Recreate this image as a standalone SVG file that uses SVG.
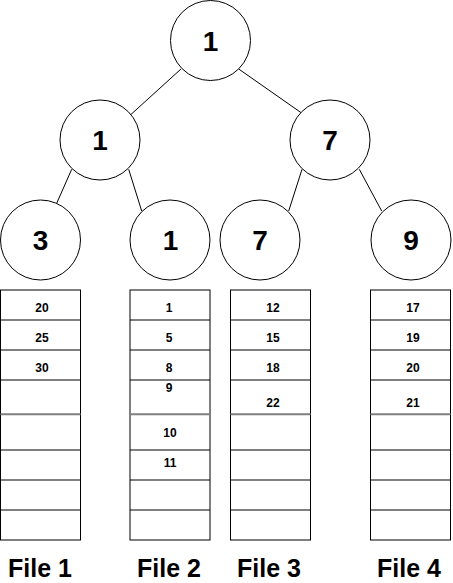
<svg xmlns="http://www.w3.org/2000/svg" width="453" height="583" viewBox="0 0 453 583">
<style>
.node circle{fill:#fff;stroke:#000;stroke-width:1}
.node text{font-family:"Liberation Sans",Arial,sans-serif;font-weight:bold;font-size:28px;text-anchor:middle;fill:#000}
.edges line{stroke:#000;stroke-width:1}
.file rect{fill:#fff;stroke:#000;stroke-width:1}
.file line{stroke:#000;stroke-width:1}
.file line.sep{stroke:#808080;stroke-width:2}
.file text{font-family:"Liberation Sans",Arial,sans-serif;font-weight:bold;font-size:12px;text-anchor:middle;fill:#000}
.label{font-family:"Liberation Sans",Arial,sans-serif;font-weight:bold;font-size:25px;text-anchor:middle;fill:#000}
</style>
<rect width="453" height="583" fill="#fff"/>
<g class="edges" id="connectors">
<line x1="181" y1="69" x2="130.7" y2="114.7"/>
<line x1="238.7" y1="69" x2="302" y2="113.3"/>
<line x1="71.7" y1="169.3" x2="56.7" y2="203.3"/>
<line x1="128.7" y1="169.3" x2="141.7" y2="211"/>
<line x1="302" y1="169.3" x2="288.7" y2="211"/>
<line x1="359.3" y1="169.3" x2="381.7" y2="211"/>
</g>
<g class="node" id="n-root"><circle cx="210.5" cy="40.5" r="40"/><text x="210.5" y="50.5">1</text></g>
<g class="node" id="n-l"><circle cx="100" cy="140" r="40"/><text x="100" y="150">1</text></g>
<g class="node" id="n-r"><circle cx="330" cy="140" r="40"/><text x="330" y="150">7</text></g>
<g class="node" id="n-ll"><circle cx="40.5" cy="240" r="40"/><text x="40.5" y="250">3</text></g>
<g class="node" id="n-lr"><circle cx="170" cy="240" r="40"/><text x="170.5" y="250">1</text></g>
<g class="node" id="n-rl"><circle cx="260" cy="240" r="40"/><text x="260" y="250">7</text></g>
<g class="node" id="n-rr"><circle cx="411" cy="240" r="40"/><text x="411" y="250">9</text></g>

<g class="file" id="file1">
<rect x="0.5" y="290" width="80" height="250"/>
<line x1="0.5" y1="320" x2="80.5" y2="320"/><line x1="0.5" y1="350" x2="80.5" y2="350"/><line x1="0.5" y1="380" x2="80.5" y2="380"/>
<line class="sep" x1="0.5" y1="414.3" x2="80.5" y2="414.3"/>
<line x1="0.5" y1="450" x2="80.5" y2="450"/><line x1="0.5" y1="480" x2="80.5" y2="480"/><line x1="0.5" y1="510" x2="80.5" y2="510"/>
<text x="42" y="312">20</text><text x="42" y="342">25</text><text x="42" y="372">30</text>
</g>
<g class="file" id="file2">
<rect x="130" y="290" width="80" height="250"/>
<line x1="130" y1="320" x2="210" y2="320"/><line x1="130" y1="350" x2="210" y2="350"/><line x1="130" y1="380" x2="210" y2="380"/>
<line class="sep" x1="130" y1="414.3" x2="210" y2="414.3"/>
<line x1="130" y1="450" x2="210" y2="450"/><line x1="130" y1="480" x2="210" y2="480"/><line x1="130" y1="510" x2="210" y2="510"/>
<text x="169" y="312">1</text><text x="169" y="342">5</text><text x="169" y="372">8</text><text x="169" y="392">9</text><text x="170" y="437">10</text><text x="170" y="467">11</text>
</g>
<g class="file" id="file3">
<rect x="230.5" y="290" width="80" height="250"/>
<line x1="230.5" y1="320" x2="310.5" y2="320"/><line x1="230.5" y1="350" x2="310.5" y2="350"/><line x1="230.5" y1="380" x2="310.5" y2="380"/>
<line class="sep" x1="230.5" y1="414.3" x2="310.5" y2="414.3"/>
<line x1="230.5" y1="450" x2="310.5" y2="450"/><line x1="230.5" y1="480" x2="310.5" y2="480"/><line x1="230.5" y1="510" x2="310.5" y2="510"/>
<text x="273" y="312">12</text><text x="273" y="342">15</text><text x="273" y="372">18</text><text x="273" y="407">22</text>
</g>
<g class="file" id="file4">
<rect x="370.5" y="290" width="80" height="250"/>
<line x1="370.5" y1="320" x2="450.5" y2="320"/><line x1="370.5" y1="350" x2="450.5" y2="350"/><line x1="370.5" y1="380" x2="450.5" y2="380"/>
<line class="sep" x1="370.5" y1="414.3" x2="450.5" y2="414.3"/>
<line x1="370.5" y1="450" x2="450.5" y2="450"/><line x1="370.5" y1="480" x2="450.5" y2="480"/><line x1="370.5" y1="510" x2="450.5" y2="510"/>
<text x="413" y="312">17</text><text x="413" y="342">19</text><text x="413" y="372">20</text><text x="413" y="407">21</text>
</g>

<g id="labels">
<text class="label" x="40" y="576.5">File 1</text>
<text class="label" x="169" y="576.5">File 2</text>
<text class="label" x="269" y="576.5">File 3</text>
<text class="label" x="409" y="576.5">File 4</text>
</g>
</svg>
